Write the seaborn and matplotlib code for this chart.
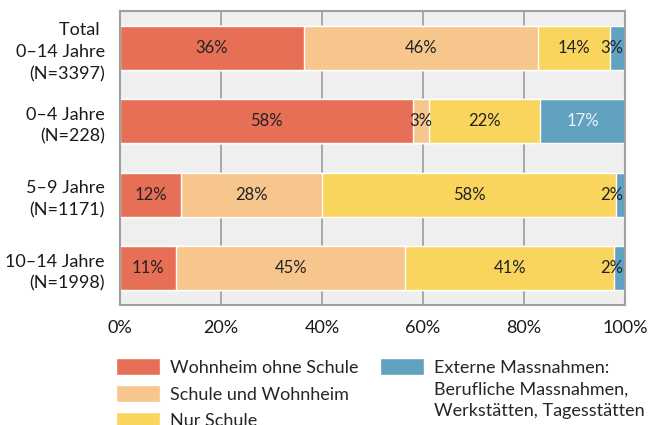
import numpy as np
import pandas as pd
import matplotlib
matplotlib.use("Agg")
import matplotlib.pyplot as plt
import seaborn as sns
from matplotlib.patches import Patch

categories = ["Total \n0–14 Jahre\n(N=3397)", "0–4 Jahre\n(N=228)",
              "5–9 Jahre\n(N=1171)", "10–14 Jahre\n(N=1998)"]
series_names = ["Wohnheim ohne Schule", "Schule und Wohnheim", "Nur Schule",
                "Externe Massnahmen:"]
extra_legend_lines = ["Berufliche Massnahmen,", "Werkstätten, Tagesstätten"]
wohnheim_ohne_schule = [36.4, 58.0, 12.1, 11.1]
schule_und_wohnheim = [46.4, 3.2, 27.9, 45.4]
nur_schule = [14.2, 22.0, 58.2, 41.4]
externe_massnahmen = [3.0, 16.8, 1.8, 2.1]
xticks = [0, 20, 40, 60, 80, 100]
xtick_labels = ["0%", "20%", "40%", "60%", "80%", "100%"]

colors = ["#e76f56", "#f6c68d", "#f9d55e", "#60a2bf"]
text_colors = ["#222222", "#222222", "#222222", "#f2f2f2"]

sns.set_theme(style="white")
plt.rcParams["font.family"] = ["Lato", "DejaVu Sans"]

fig = plt.figure(figsize=(6.49, 4.25), dpi=100)
ax = fig.add_axes([120 / 649, 1 - 305 / 425, 505 / 649, 294 / 425])
ax.set_facecolor("#efefef")

series = [wohnheim_ohne_schule, schule_und_wohnheim, nur_schule, externe_massnahmen]
cum = np.cumsum(np.array(series), axis=0)

# draw from the outermost cumulative layer inward
for i in range(len(series) - 1, -1, -1):
    df = pd.DataFrame({"cat": categories, "val": cum[i]})
    sns.barplot(data=df, x="val", y="cat", orient="h", color=colors[i],
                saturation=1, width=0.6, errorbar=None, ax=ax, zorder=2)

for i, s in enumerate(series):
    starts = cum[i] - np.array(s)
    for j, v in enumerate(s):
        centre = starts[j] + v / 2
        lab = f"{round(v)}%"
        if i == len(series) - 1 and v < 5:
            ax.text(99.7, j, lab, ha="right", va="center", fontsize=12,
                    color="#222222", zorder=3)
        else:
            ax.text(centre, j, lab, ha="center", va="center", fontsize=12,
                    color=text_colors[i], zorder=3)

ax.set_xlim(0, 100)
ax.set_ylim(3.5, -0.5)
ax.set_xticks(xticks)
ax.set_xticklabels(xtick_labels)
ax.set_xlabel("")
ax.set_ylabel("")
ax.grid(axis="x", color="#a8a8a8", linewidth=1.4, zorder=1)
ax.set_axisbelow(True)
for sp in ax.spines.values():
    sp.set_color("#a0a0a0")
    sp.set_linewidth(1.5)
    sp.set_visible(True)
ax.tick_params(axis="y", length=0, pad=11, labelsize=13, labelcolor="#1a1a1a")
ax.tick_params(axis="x", length=3, width=1.4, color="#a8a8a8", pad=8,
               labelsize=13, labelcolor="#1a1a1a", direction="out")
for t in ax.get_yticklabels():
    t.set_linespacing(1.45)

# legend column 1
h1 = [Patch(facecolor=c) for c in colors[:3]]
leg1 = fig.legend(h1, series_names[:3], loc="upper left",
                  bbox_to_anchor=(116 / 649, 1 - 358 / 425), frameon=False,
                  fontsize=13, handlelength=2.44, handleheight=1.1,
                  handletextpad=0.55, labelspacing=0.5,
                  borderpad=0, borderaxespad=0)
# legend column 2 (one entry over three lines)
h2 = [Patch(facecolor=colors[3]),
      Patch(facecolor="none", edgecolor="none"),
      Patch(facecolor="none", edgecolor="none")]
leg2 = fig.legend(h2, [series_names[3]] + extra_legend_lines, loc="upper left",
                  bbox_to_anchor=(380 / 649, 1 - 358 / 425), frameon=False,
                  fontsize=13, handlelength=2.44, handleheight=1.1,
                  handletextpad=0.55, labelspacing=0.2,
                  borderpad=0, borderaxespad=0)

fig.savefig("out.png", dpi=100)
